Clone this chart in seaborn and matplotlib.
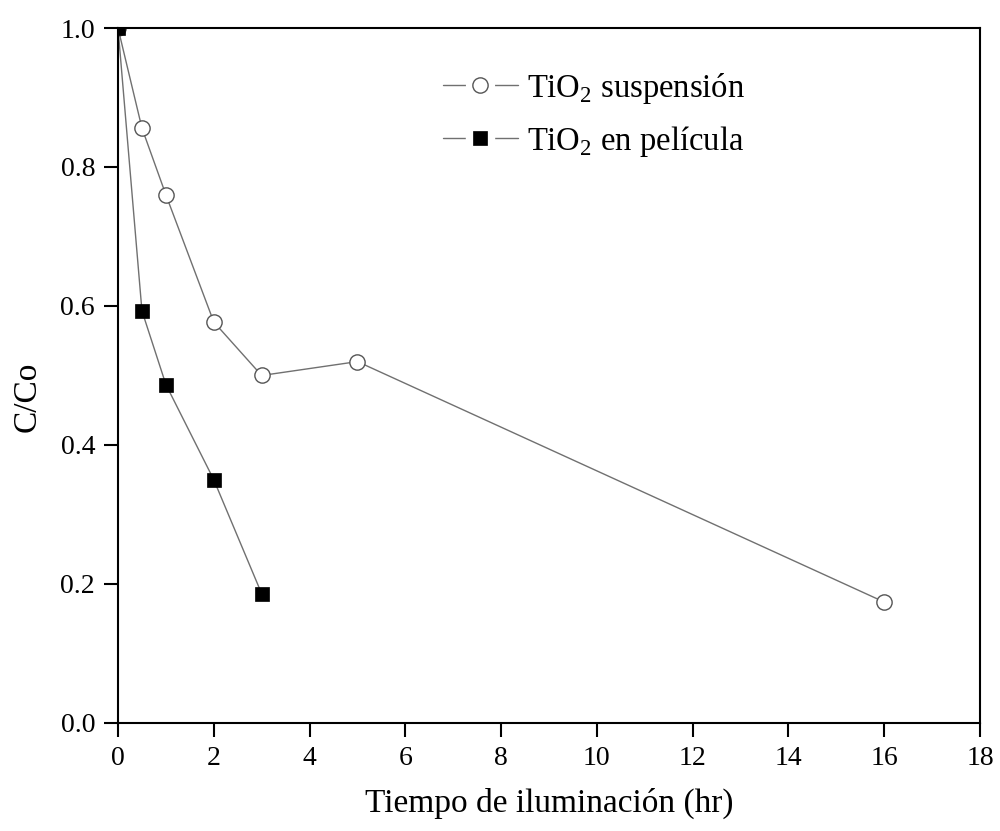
import seaborn as sns
import matplotlib
matplotlib.use('Agg')
import matplotlib.pyplot as plt
from matplotlib.lines import Line2D
from matplotlib.legend_handler import HandlerTuple
import pandas as pd

# values
susp_time = [0, 0.5, 1, 2, 3, 5, 16]
susp_ratio = [1.0, 0.856, 0.76, 0.577, 0.50, 0.52, 0.174]
film_time = [0, 0.5, 1, 2, 3]
film_ratio = [1.0, 0.593, 0.487, 0.35, 0.186]
susp_label = 'TiO$_\\mathregular{2}$ suspensión'
film_label = 'TiO$_\\mathregular{2}$ en película'
x_ticks = [0, 2, 4, 6, 8, 10, 12, 14, 16, 18]
y_ticks = [0.0, 0.2, 0.4, 0.6, 0.8, 1.0]

sns.set_style('ticks')
plt.rcParams['font.family'] = ['Liberation Serif', 'DejaVu Serif']
plt.rcParams['mathtext.fontset'] = 'custom'
plt.rcParams['mathtext.rm'] = 'Liberation Serif'
plt.rcParams['text.color'] = 'black'
plt.rcParams['axes.labelcolor'] = 'black'
plt.rcParams['xtick.color'] = 'black'
plt.rcParams['ytick.color'] = 'black'

line_col = '#707070'
susp = pd.DataFrame({'t': susp_time, 'c': susp_ratio})
film = pd.DataFrame({'t': film_time, 'c': film_ratio})

fig, ax = plt.subplots(figsize=(10, 8.31), dpi=100)
fig.subplots_adjust(left=0.118, right=0.98, top=0.9663, bottom=0.13)

circ = dict(marker='o', markersize=11, markerfacecolor='white',
            markeredgecolor='#555555', markeredgewidth=1.0)
sq = dict(marker='s', markersize=9.5, markerfacecolor='black',
          markeredgecolor='black', markeredgewidth=0.5)

sns.lineplot(data=susp, x='t', y='c', ax=ax, color=line_col, lw=1.0, legend=False, **circ)
sns.lineplot(data=film, x='t', y='c', ax=ax, color=line_col, lw=1.0, legend=False, **sq)

ax.set_xlim(0, 18)
ax.set_ylim(0, 1.0)
ax.set_xticks(x_ticks)
ax.set_yticks(y_ticks)
ax.set_yticklabels(['{:.1f}'.format(v) for v in y_ticks])
ax.tick_params(labelsize=20, width=1.5, length=10, direction='out', pad=6.5)
for sp in ax.spines.values():
    sp.set_visible(True)
    sp.set_linewidth(1.5)
    sp.set_color('black')

ax.set_xlabel('Tiempo de iluminación (hr)', fontsize=24, labelpad=12)
ax.set_ylabel('C/Co', fontsize=24)
ax.yaxis.set_label_coords(-0.088, 0.469)

# legend handles: line broken around the marker
def handle(mk, gap_marker):
    base = Line2D([], [], color=line_col, lw=1.0)
    gap = Line2D([], [], ls='none', marker=gap_marker, markersize=20,
                 markerfacecolor='white', markeredgecolor='white')
    sym = Line2D([], [], ls='none', **mk)
    return (base, gap, sym)

ax.legend([handle(circ, 'o'), handle(sq, 's')], [susp_label, film_label],
          handler_map={tuple: HandlerTuple(ndivide=1, pad=0)},
          loc='upper left', bbox_to_anchor=(0.3426, 0.981), frameon=False,
          fontsize=23.5, handlelength=2.3, handletextpad=0.28,
          labelspacing=0.55, borderaxespad=0.5)

fig.savefig('out.png', dpi=100)
